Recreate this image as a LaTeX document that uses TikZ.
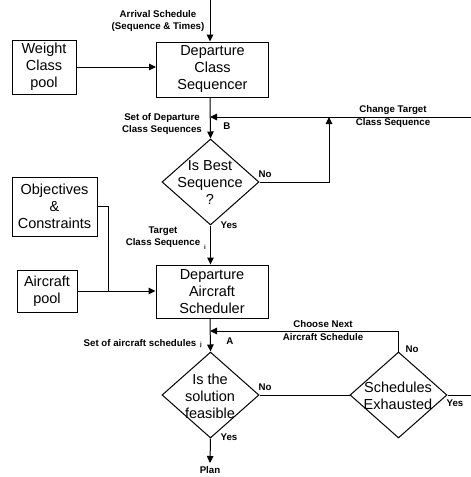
\documentclass[tikz,border=0pt]{standalone}
\usepackage{fontspec}
\setmainfont{Liberation Sans}
\usetikzlibrary{arrows.meta,shapes.geometric}
\begin{document}
\begin{tikzpicture}[x=1pt,y=-1pt,
  line width=1pt,
  arr/.style={-{Triangle[length=7pt,width=6.5pt]}},
  bigbox/.style={draw,rectangle,inner sep=0pt,align=center,font=\fontsize{14.5}{17}\selectfont},
  dia/.style={draw,diamond,inner sep=0pt,minimum width=97pt,minimum height=86pt},
  bigtxt/.style={inner sep=0pt,align=center,font=\fontsize{14.5}{17}\selectfont},
  lbl/.style={inner sep=0pt,align=center,font=\fontsize{9.7}{12.5}\selectfont\bfseries},
  sub/.style={inner sep=0pt,font=\fontsize{6}{7}\selectfont\bfseries}]
\useasboundingbox (0,0) rectangle (471,477);

% boxes
\node[bigbox,minimum width=112pt,minimum height=55pt] (dcs) at (212.5,69.5) {Departure\\Class\\Sequencer};
\node[bigbox,minimum width=64pt,minimum height=54pt] (wcp) at (44,67) {Weight\\Class\\pool};
\node[bigbox,minimum width=85pt,minimum height=59pt] (obj) at (54.5,206.5) {Objectives\\\&\\Constraints};
\node[bigbox,minimum width=60pt,minimum height=42pt] (acp) at (47,291) {Aircraft\\pool};
\node[bigbox,minimum width=112pt,minimum height=53pt] (das) at (212,291.5) {Departure\\Aircraft\\Scheduler};

% diamonds
\node[dia] (d1) at (210.5,182) {};
\node[bigtxt] (d1t) at (210,183) {Is Best\\Sequence\\?};
\node[dia] (d2) at (210.5,395) {};
\node[bigtxt] (d2t) at (210,396) {Is the\\solution\\feasible};
\node[dia] (se) at (398.5,395) {};
\node[bigtxt] (set) at (398,395.5) {Schedules\\Exhausted};

% coordinates
\coordinate (top) at (210,0);
\coordinate (rB) at (471,117);
\coordinate (jB) at (210,117);
\coordinate (cB) at (329,117);
\coordinate (jO) at (108,291);
\coordinate (jA) at (210,331);
\coordinate (cA) at (398.5,331);
\coordinate (rS) at (471,395);

% connectors
\draw[arr] (top) -- (top |- dcs.north);
\draw[arr] (wcp.east) -- (wcp.east -| dcs.west);
\draw[arr] (dcs.south -| top) -- (d1.north);
\draw[arr] (rB) -- (jB);
\draw[arr] (d1.east) -| (cB);
\draw[arr] (d1.south) -- (d1.south |- das.north);
\draw (obj.east) -| (jO);
\draw[arr] (acp.east) -- (acp.east -| das.west);
\draw[arr] (das.south -| top) -- (d2.north);
\draw (se.north) -- (cA);
\draw[arr] (cA) -- (jA);
\draw (d2.east) -- (se.west);
\draw (se.east) -- (rS);
\node[lbl] (plan) at (210,470) {Plan};
\draw[arr] (d2.south) -- (210,463);

% labels
\node[lbl] (l1) at (158,21) {Arrival Schedule\\(Sequence \& Times)};
\node[lbl] (l2) at (162,124) {Set of Departure\\Class Sequences};
\node[lbl] (l3) at (227,126) {B};
\node[lbl] (l4) at (393,116.5) {Change Target\\Class Sequence};
\node[lbl] (l5) at (265,174) {No};
\node[lbl] (l6) at (229,225) {Yes};
\node[lbl] (l7) at (163,237) {Target\\Class Sequence};
\node[sub] (l7s) at (205,247) {i};
\node[lbl] (l8) at (323,330.5) {Choose Next\\Aircraft Schedule};
\node[lbl] (l9) at (230,341) {A};
\node[lbl] (l10) at (140,343) {Set of aircraft schedules};
\node[sub] (l10s) at (201,345) {j};
\node[lbl] (l11) at (265,387) {No};
\node[lbl] (l12) at (412,349) {No};
\node[lbl] (l13) at (455,403) {Yes};
\node[lbl] (l14) at (229,437) {Yes};
\end{tikzpicture}
\end{document}
